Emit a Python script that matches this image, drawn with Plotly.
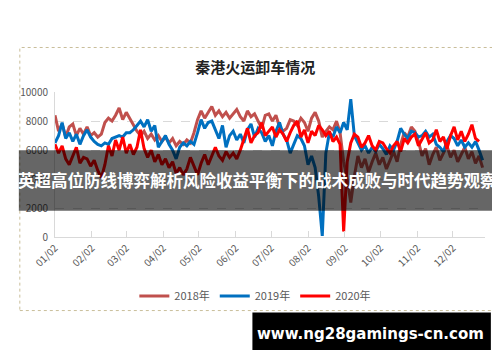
import pandas as pd
import plotly.graph_objects as go

# ---------------- data ----------------
title_text = "秦港火运卸车情况"
series_names = ["2018年", "2019年", "2020年"]
start_date = "2020-01-02"      # first sample (x axis origin)
step_days = 3                   # sampling interval

vals_2018 = [8400, 7300, 7800, 6900, 7600, 7800, 7000, 7500, 7100, 7600,
             7000, 7200, 6900, 7100, 7900, 8200, 8000, 8400, 8900, 8100,
             8600, 8200, 7700, 7300, 7000, 7300, 6800, 7100, 6700, 7000,
             6600, 6900, 6500, 6800, 6300, 6600, 6400, 6700, 6500, 7200,
             8100, 8700, 8200, 8600, 9000, 8400, 8700, 8300, 8600, 8200,
             8500, 8800, 8300, 8000, 8700, 8300, 8500, 8000, 7500, 8400,
             8500, 8000, 8400, 7600, 7300, 7500, 8100, 8000, 7700, 8200,
             7900, 7300, 8200, 8600, 8000, 6900, 7300, 7600, 7400, 8000,
             7200, 5200, 4000, 2400, 4200, 5600, 4800, 5400, 4500, 5200,
             5800, 5000, 5500, 4700, 5300, 5900, 5200, 6400, 7200, 6900,
             7600, 7300, 6600, 5600, 6100, 5000, 5700, 6200, 5300, 5800,
             6300, 5500, 6000, 5200, 5700, 6200, 5400, 5900, 5100, 5600,
             4800]

vals_2019 = [6500, 7000, 7900, 6800, 7200, 6600, 7100, 6400, 7000, 7400,
             6900, 6600, 6400, 6300, 6500, 6400, 6800, 6900, 7000, 6900,
             7200, 7200, 7400, 7700, 8000, 7600, 8100, 7300, 7700, 6200,
             6600, 7000, 6400, 6000, 5400, 6200, 6500, 6300, 6600, 6400,
             7200, 8100, 7500, 7900, 8000, 7400, 6800, 7700, 6200, 7000,
             7300, 6700, 7100, 6500, 7400, 7800, 6900, 7500, 7200, 6600,
             7000, 6300, 7300, 7900, 7100, 6700, 5800, 6400, 7000, 6800,
             6300, 5000, 5600, 4800, 2800, 100, 5800, 7200, 6900, 7600,
             7200, 7900, 7400, 9500, 7000, 6500, 6000, 6300, 5800, 6200,
             5900, 6400, 6100, 5700, 6300, 6000, 6600, 7500, 7100, 6800,
             7300, 7200, 6900, 7000, 7300, 6900, 7100, 6400, 6200, 5900,
             6600, 7000, 6800, 6300, 6700, 6200, 6500, 6200, 6600, 6000,
             5300]

vals_2020 = [6400, 5800, 6300, 5400, 5000, 5600, 6200, 5100, 5500, 5400,
             4900, 5300, 4600, 4100, 5000, 6300, 5600, 6700, 6000, 6900,
             5800, 6400, 5700, 6200, 7400, 6100, 5500, 6000, 5200, 5700,
             5000, 5400, 4800, 5200, 4400, 4800, 4300, 4700, 5500, 4900,
             4300, 5100, 5700, 5000, 5600, 6200, 5600, 5300, 5900, 5500,
             5800, 5400, 6000, 6700, 7500, 6500, 7000, 7200, 7900, 7000,
             7300, 7600, 6900, 7400, 7100, 6600, 7200, 7700, 8000, 6900,
             7400, 6500, 7300, 7000, 7700, 7400, 7000, 7300, 6600, 6900,
             6400, 400, 5200, 6500, 7100, 6900, 6200, 6500, 7000, 6300,
             6000, 6600, 6500, 6100, 5800, 6300, 6600, 5900, 6800, 6500,
             6900, 7100, 6300, 6800, 7200, 6500, 6700, 7400, 6600, 6900,
             6100, 7000, 7600, 6700, 7300, 6600, 7100, 7750, 6800, 6600]

series_values = [vals_2018, vals_2019, vals_2020]
series_colors = ["#C0504D", "#0070C0", "#FF0000"]

y_ticks = [0, 2000, 4000, 6000, 8000, 10000]
y_tick_text = ["0", "2000", "4000", "6000", "8000", "10000"]
x_tick_dates = ["2020-%02d-02" % m for m in range(1, 13)]
x_range = ["2020-01-02", "2020-12-29"]

banner_text = "英超高位防线博弈解析风险收益平衡下的战术成败与时代趋势观察"
url_text = "www.ng28gamings-cn.com"

# ---------------- geometry (page pixels; body has an 8px margin) ----------------
OFF = 8
W, H = 500 - OFF, 362 - OFF
PLOT_L, PLOT_R, PLOT_T, PLOT_B = 45, 485, 92, 239   # plot area in page pixels
L, R = PLOT_L - OFF, W - (PLOT_R - OFF)
T, B = PLOT_T - OFF, H - (PLOT_B - OFF)
PW, PH = PLOT_R - PLOT_L, PLOT_B - PLOT_T


def px_x(px):
    return (px - PLOT_L) / PW


def px_y(py):
    return (PLOT_B - py) / PH


fig = go.Figure()
for name, vals, col in zip(series_names, series_values, series_colors):
    dates = pd.date_range(start_date, periods=len(vals), freq=f"{step_days}D")
    fig.add_trace(go.Scatter(
        x=dates, y=vals, name=name, mode="lines",
        line=dict(color=col, width=3),
    ))

cjk = "Noto Sans CJK SC"
fig.update_layout(
    width=W, height=H,
    margin=dict(l=L, r=R, t=T, b=B),
    paper_bgcolor="white", plot_bgcolor="white",
    font=dict(family=cjk, color="#595959", size=10),
    title=dict(text="<b>" + title_text + "</b>", x=px_x(250), xref="paper",
               xanchor="center", y=1 - (68 - OFF) / H, yref="container",
               yanchor="middle",
               font=dict(family=cjk, size=15, color="#222222")),
    showlegend=True,
    legend=dict(orientation="h", x=px_x(250), xanchor="center", xref="paper",
                y=1 - (296 - OFF) / H, yanchor="middle", yref="container",
                font=dict(family=cjk, size=11, color="#595959"),
                bgcolor="rgba(0,0,0,0)"),
    xaxis=dict(type="date", range=x_range, tickvals=x_tick_dates,
               tickformat="%m/%d", tickangle=-45, showgrid=False,
               showline=True, linecolor="#D9D9D9", linewidth=1,
               ticks="inside", ticklen=6, tickcolor="#D9D9D9",
               tickfont=dict(family=cjk, size=10, color="#595959"),
               zeroline=False),
    yaxis=dict(range=[0, 10000], tickvals=y_ticks, ticktext=y_tick_text,
               showgrid=True,
               gridcolor="#D9D9D9", griddash="dash", gridwidth=1,
               showline=True, linecolor="#D9D9D9", linewidth=1,
               ticks="outside", ticklen=4, tickcolor="rgba(0,0,0,0)",
               tickfont=dict(family=cjk, size=10, color="#595959"),
               zeroline=False),
)

# card border
fig.add_shape(type="rect", xref="paper", yref="paper",
              x0=px_x(9), x1=px_x(497), y0=px_y(313), y1=px_y(47),
              line=dict(color="#C9BE9A", width=1, dash="dot"),
              fillcolor="rgba(0,0,0,0)", layer="below")
fig.add_shape(type="line", xref="paper", yref="paper",
              x0=px_x(498.5), x1=px_x(498.5), y0=px_y(313), y1=px_y(47),
              line=dict(color="#CFC6A6", width=3))

# dark banner across the chart
fig.add_shape(type="rect", xref="paper", yref="paper",
              x0=px_x(8), x1=px_x(497), y0=px_y(212), y1=px_y(151),
              line=dict(width=0), fillcolor="rgba(0,0,0,0.6)", layer="above")
fig.add_annotation(text="<b>" + banner_text + "</b>", xref="paper", yref="paper",
                   x=px_x(252), y=px_y(181), showarrow=False,
                   xanchor="center", yanchor="middle",
                   font=dict(family=cjk, size=16.5, color="white"))

# black url bar
fig.add_shape(type="rect", xref="paper", yref="paper",
              x0=px_x(247), x1=px_x(491), y0=px_y(353), y1=px_y(315),
              line=dict(width=0), fillcolor="black", layer="above")
fig.add_annotation(text="<b>" + url_text + "</b>", xref="paper", yref="paper",
                   x=px_x(368), y=px_y(337), showarrow=False,
                   xanchor="center", yanchor="middle",
                   font=dict(family="DejaVu Sans", size=15, color="white"))

fig.write_html("out.html")
